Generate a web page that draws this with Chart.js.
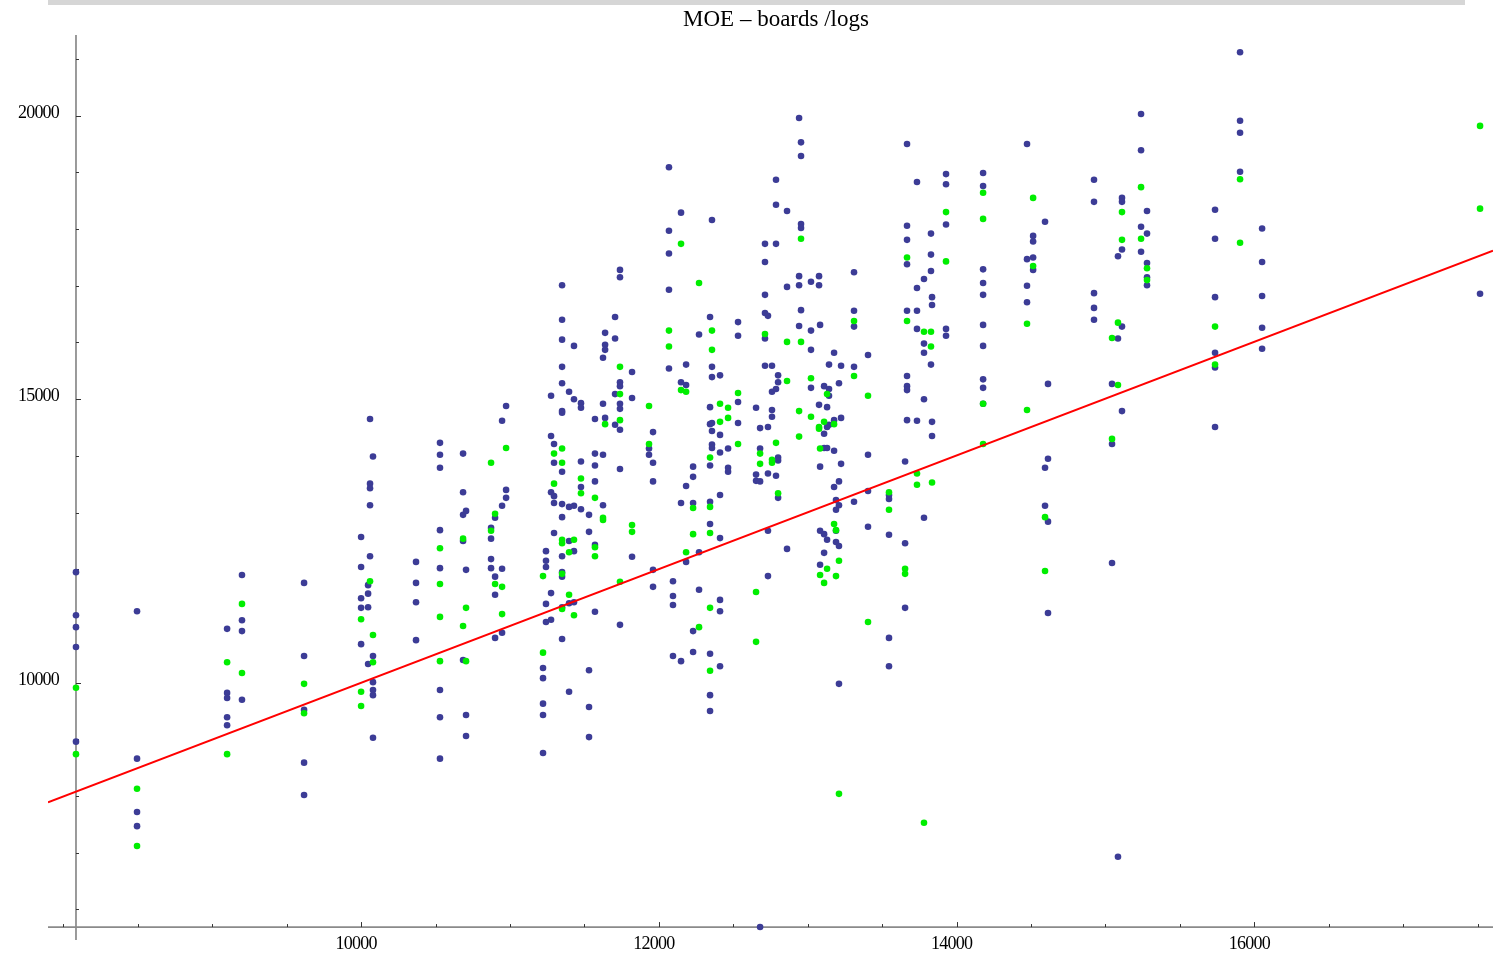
<!DOCTYPE html>
<html>
<head>
<meta charset="utf-8">
<title>MOE – boards /logs</title>
<script src="https://cdn.jsdelivr.net/npm/chart.js@4.4.1/dist/chart.umd.min.js"></script>
<style>
  html, body { margin: 0; padding: 0; background: #fff; }
  canvas { display: block; }
</style>
</head>
<body>
<canvas id="moeChart" width="1493" height="957"></canvas>
<script>
// MOE of logs (x) vs MOE of boards (y)
const boardPts = [
  [8085,11950],[8085,11190],[8085,10980],[8085,10630],[8085,8960],
  [8495,11260],[8495,8660],[8495,7720],[8495,7470],
  [9100,10950],[9100,9820],[9100,9730],[9100,9390],[9100,9250],
  [9200,11900],[9200,11100],[9200,10910],[9200,9700],
  [9617,11760],[9617,10470],[9617,9520],[9617,8590],[9617,8020],
  [10000,12570],[10000,12040],[10000,11490],[10000,11320],[10000,10680],
  [10047,11720],[10047,11570],[10047,11330],[10047,10330],
  [10060,14650],[10060,13510],[10060,13430],[10060,13130],[10060,12230],
  [10080,13990],[10080,10470],[10080,10010],[10080,9870],[10080,9780],[10080,9030],
  [10369,12130],[10369,11760],[10369,11420],[10369,10750],
  [10530,14230],[10530,14020],[10530,13790],[10530,12690],[10530,12020],[10530,9870],[10530,9390],[10530,8660],
  [10685,14040],[10685,13360],[10685,12960],[10685,12500],[10685,10400],
  [10705,13030],[10705,11990],[10705,9430],[10705,9060],
  [10873,12730],[10873,12540],[10873,12180],[10873,12020],
  [10900,12910],[10900,11870],[10900,11550],[10900,10790],
  [10947,14620],[10947,13120],[10947,12010],[10947,10880],
  [10974,14880],[10974,13400],[10974,13260],
  [11222,10260],[11222,10080],[11222,9630],[11222,9430],[11222,8760],
  [11242,12320],[11242,12150],[11242,12040],[11242,11390],[11242,11070],
  [11276,15060],[11276,14350],[11276,13360],[11276,11580],[11276,11110],
  [11296,14210],[11296,13880],[11296,13290],[11296,13170],[11296,12640],
  [11350,17010],[11350,16400],[11350,16050],[11350,15570],[11350,15280],[11350,14790],[11350,14760],
  [11350,13720],[11350,13150],[11350,12920],[11350,12230],[11350,11950],[11350,11870],[11350,11330],[11350,10770],
  [11397,15130],[11397,13100],[11397,12500],[11397,11400],[11397,9840],
  [11430,15940],[11430,15000],[11430,13120],[11430,12320],[11430,11420],
  [11477,14930],[11477,14850],[11477,13900],[11477,13450],[11477,13060],
  [11531,12960],[11531,12660],[11531,10220],[11531,9570],[11531,9040],
  [11571,14650],[11571,14040],[11571,13830],[11571,13550],[11571,12430],[11571,11250],
  [11625,15730],[11625,14920],[11625,14020],[11625,13130],
  [11639,16170],[11639,15960],[11639,15870],[11639,14670],
  [11706,16450],[11706,16070],[11706,15090],[11706,14550],
  [11739,17280],[11739,17150],[11739,15300],[11739,15230],[11739,14920],[11739,14830],[11739,14460],[11739,13770],[11739,11020],
  [11820,15480],[11820,15020],[11820,12220],
  [11934,14130],[11934,14020],
  [11961,14420],[11961,13880],[11961,13550],[11961,11990],[11961,11690],
  [12068,19090],[12068,17970],[12068,17570],[12068,16930],[12068,15540],
  [12095,11790],[12095,11530],[12095,11370],[12095,10470],
  [12149,18290],[12149,15300],[12149,13170],[12149,10380],
  [12183,15610],[12183,15250],[12183,13470],[12183,12130],
  [12230,13810],[12230,13630],[12230,13170],[12230,10910],[12230,10540],
  [12270,16140],[12270,12300],[12270,11640],
  [12344,16450],[12344,14860],[12344,14560],[12344,13830],[12344,13190],[12344,12800],[12344,10510],[12344,9780],[12344,9500],
  [12357,18160],[12357,15570],[12357,15390],[12357,14580],[12357,14440],[12357,14200],[12357,14140],
  [12411,15420],[12411,14370],[12411,14060],[12411,13310],[12411,12550],[12411,11460],[12411,11260],[12411,10290],
  [12465,14130],[12465,13790],[12465,13720],
  [12532,16360],[12532,16120],[12532,14950],[12532,14580],
  [12653,14850],[12653,13670],[12653,13560],
  [12680,14490],[12680,14130],[12680,13550],[12680,5690],
  [12713,17740],[12713,17420],[12713,16840],[12713,16520],[12713,16070],[12713,15590],
  [12733,16470],[12733,14510],[12733,13690],[12733,12680],[12733,11880],
  [12760,15590],[12760,15130],[12760,14810],[12760,14690],
  [12787,18870],[12787,18430],[12787,17740],[12787,15180],[12787,13650],
  [12801,15420],[12801,15300],[12801,13970],[12801,13920],[12801,13260],
  [12861,18320],[12861,16980],[12861,12360],
  [12942,19960],[12942,17170],[12942,17010],[12942,16290],
  [12955,19530],[12955,19290],[12955,18090],[12955,18020],[12955,16570],
  [13022,17070],[13022,16210],[13022,15870],[13022,15200],
  [13076,17170],[13076,17010],[13076,14900],
  [13083,16310],[13083,13810],[13083,12680],[13083,12080],
  [13110,15230],[13110,14390],[13110,14140],[13110,12620],[13110,12290],
  [13130,14860],[13130,14510],[13130,14140],[13130,12520],
  [13143,15610],[13143,15180],[13143,15060],[13143,14550],
  [13177,15820],[13177,14630],[13177,14090],[13177,13450],
  [13190,13220],[13190,13050],[13190,12680],[13190,12480],
  [13210,15280],[13210,13550],[13210,13130],[13210,12410],[13210,9980],
  [13224,15590],[13224,14670],[13224,13860],
  [13311,17240],[13311,16560],[13311,16280],[13311,15570],[13311,13190],
  [13405,15780],[13405,14020],[13405,13380],[13405,12750],
  [13546,13310],[13546,13240],[13546,12610],[13546,10790],[13546,10290],
  [13654,13900],[13654,12460],[13654,11320],
  [13667,19500],[13667,18060],[13667,17810],[13667,17380],[13667,16560],[13667,15410],[13667,15230],[13667,15160],[13667,14630],
  [13734,18830],[13734,16960],[13734,16560],[13734,16240],[13734,14620],
  [13781,17120],[13781,15980],[13781,15820],[13781,15000],[13781,12910],
  [13828,17920],[13828,17550],[13828,17260],[13828,15610],
  [13835,16800],[13835,16660],[13835,14600],[13835,14350],
  [13929,18970],[13929,18790],[13929,18080],[13929,16240],[13929,16120],
  [14178,18990],[14178,18760],[14178,17290],[14178,17050],[14178,16840],[14178,16310],[14178,15940],[14178,15350],[14178,15200],[14178,14920],
  [14473,19500],[14473,17470],[14473,17000],[14473,16710],
  [14514,17880],[14514,17780],[14514,17500],[14514,17280],
  [14594,18130],[14594,13790],[14594,13120],
  [14614,15270],[14614,13950],[14614,12840],[14614,11230],
  [14923,18870],[14923,18480],[14923,16870],[14923,16610],[14923,16400],
  [15044,15270],[15044,14210],[15044,12110],
  [15084,17520],[15084,16070],[15084,6930],
  [15111,18550],[15111,18480],[15111,17640],[15111,16280],[15111,14790],
  [15239,20030],[15239,19390],[15239,18040],[15239,17600],
  [15279,18320],[15279,17920],[15279,17400],[15279,17150],[15279,17010],
  [15736,18340],[15736,17830],[15736,16800],[15736,15820],[15736,15560],[15736,14510],
  [15904,21120],[15904,19910],[15904,19700],[15904,19010],
  [16052,18010],[16052,17420],[16052,16820],[16052,16260],[16052,15890],
  [17516,16860]
];

// second sample group (green points)
const greenPts = [
  [8085,9910],[8085,8740],
  [8495,8130],[8495,7120],
  [9100,10360],[9100,8740],
  [9200,11390],[9200,10170],
  [9617,9980],[9617,9460],
  [10000,11120],[10000,9840],[10000,9590],
  [10060,11790],
  [10080,10840],[10080,10360],
  [10530,12370],[10530,11740],[10530,11160],[10530,10380],
  [10685,12540],[10685,11000],
  [10705,11320],[10705,10380],
  [10873,13880],[10873,12680],
  [10900,12980],[10900,11740],
  [10947,11690],[10947,11210],
  [10974,14140],
  [11222,11880],[11222,10530],
  [11296,14040],[11296,13510],
  [11350,14130],[11350,13880],[11350,12520],[11350,12460],[11350,11920],[11350,11300],
  [11397,12300],[11397,11550],
  [11430,12520],[11430,11190],
  [11477,13600],[11477,13340],
  [11571,13260],[11571,12390],[11571,12230],
  [11625,12910],[11625,12870],
  [11639,14560],
  [11739,15570],[11739,15090],[11739,14630],[11739,11780],
  [11820,12780],[11820,12660],
  [11934,14880],[11934,14210],
  [12068,16210],[12068,15930],
  [12149,17740],[12149,15160],
  [12183,15130],[12183,12300],
  [12230,13080],[12230,12620],
  [12270,17050],[12270,10980],
  [12344,13970],[12344,13100],[12344,12640],[12344,11320],[12344,10210],
  [12357,16210],[12357,15870],
  [12411,14920],[12411,14600],
  [12465,14850],[12465,14670],
  [12532,15110],[12532,14210],
  [12653,11600],[12653,10720],
  [12680,14040],[12680,13860],
  [12713,16150],
  [12760,13930],[12760,13880],
  [12787,14230],
  [12801,13340],
  [12861,16010],[12861,15320],
  [12942,14790],[12942,14340],
  [12955,17830],[12955,16010],
  [13022,15370],[13022,14690],
  [13076,14510],[13076,14480],
  [13083,14130],[13083,11900],
  [13110,14600],[13110,11760],
  [13130,15090],[13130,12010],
  [13177,14560],[13177,12800],
  [13190,12690],[13190,11880],
  [13210,12150],[13210,8040],
  [13311,16380],[13311,15410],
  [13405,15060],[13405,11070],
  [13546,13360],[13546,13050],
  [13654,12010],[13654,11920],
  [13667,17500],[13667,16380],
  [13734,13690],[13734,13490],
  [13781,16190],[13781,7530],
  [13828,16190],[13828,15930],
  [13835,13530],
  [13929,18300],[13929,17430],
  [14178,18640],[14178,18180],[14178,14920],[14178,14210],
  [14473,16330],[14473,14810],
  [14514,18550],[14514,17350],
  [14594,12920],[14594,11970],
  [15044,16080],[15044,14300],
  [15084,16350],[15084,15250],
  [15111,18300],[15111,17810],
  [15239,18740],[15239,17830],
  [15279,17310],[15279,17100],
  [15736,16280],[15736,15610],
  [15904,18880],[15904,17760],
  [17516,19820],[17516,18360]
];

// red reference line, end points
const fitLine = [[7897, 7891], [17603, 17619]];

const xRange = [7897, 17603];
const yRange = [5462, 21423];
const axisOrigin = [8085, 5690];
const xMajorTicks = [10000, 12000, 14000, 16000];
const yMajorTicks = [10000, 15000, 20000];
const xMinorTicks = [8000, 8500, 9000, 9500, 10500, 11000, 11500, 12500, 13000, 13500, 14500, 15000, 15500, 16500, 17000, 17500];
const yMinorTicks = [6000, 7000, 8000, 9000, 11000, 12000, 13000, 14000, 16000, 17000, 18000, 19000, 21000];
const chartTitle = 'MOE \u2013 boards /logs';

const serif = '"Liberation Serif", "Times New Roman", serif';

const toXY = pts => pts.map(p => ({x: p[0], y: p[1]}));

// Mathematica-like axes crossing at the origin, drawn by hand
const mmaAxes = {
  id: 'mmaAxes',
  beforeDraw(chart) {
    const ctx = chart.ctx;
    ctx.save();
    ctx.fillStyle = '#d6d6d6';
    ctx.fillRect(48, 0, 1417, 5);
    ctx.restore();
  },
  beforeDatasetsDraw(chart) {
    const {ctx, chartArea: a, scales: {x, y}} = chart;
    const ax = x.getPixelForValue(axisOrigin[0]);
    const ay = y.getPixelForValue(axisOrigin[1]);
    ctx.save();
    ctx.strokeStyle = '#8a8a8a';
    ctx.lineWidth = 1.7;
    ctx.beginPath();
    ctx.moveTo(ax, a.top);
    ctx.lineTo(ax, a.bottom);
    ctx.moveTo(a.left, ay);
    ctx.lineTo(a.right, ay);
    ctx.stroke();

    ctx.strokeStyle = '#333';
    ctx.lineWidth = 1;
    ctx.beginPath();
    yMajorTicks.forEach(v => {
      const p = Math.round(y.getPixelForValue(v)) + 0.5;
      ctx.moveTo(ax, p); ctx.lineTo(ax + 5, p);
    });
    yMinorTicks.forEach(v => {
      const p = Math.round(y.getPixelForValue(v)) + 0.5;
      ctx.moveTo(ax, p); ctx.lineTo(ax + 3, p);
    });
    xMajorTicks.forEach(v => {
      const p = Math.round(x.getPixelForValue(v)) + 0.5;
      ctx.moveTo(p, ay); ctx.lineTo(p, ay - 5);
    });
    xMinorTicks.forEach(v => {
      const p = Math.round(x.getPixelForValue(v)) + 0.5;
      ctx.moveTo(p, ay); ctx.lineTo(p, ay - 3);
    });
    ctx.stroke();
    ctx.restore();
  },
  afterDraw(chart) {
    const {ctx, scales: {x, y}} = chart;
    const ax = x.getPixelForValue(axisOrigin[0]);
    const ay = y.getPixelForValue(axisOrigin[1]);
    ctx.save();
    ctx.fillStyle = '#000';
    ctx.font = '18px ' + serif;
    ctx.letterSpacing = '-0.8px';
    ctx.textBaseline = 'middle';
    ctx.textAlign = 'right';
    yMajorTicks.forEach(v => {
      ctx.fillText(String(v), ax - 17, y.getPixelForValue(v) - 2.5);
    });
    ctx.textAlign = 'center';
    xMajorTicks.forEach(v => {
      ctx.fillText(String(v), x.getPixelForValue(v) - 5, ay + 17.5);
    });
    ctx.letterSpacing = '0px';
    ctx.font = '23px ' + serif;
    ctx.fillText(chartTitle, 776, 20);
    ctx.restore();
  }
};

new Chart(document.getElementById('moeChart'), {
  type: 'scatter',
  data: {
    datasets: [
      {
        type: 'line',
        label: 'fit',
        data: toXY(fitLine),
        borderColor: '#ff0000',
        borderWidth: 2,
        pointRadius: 0,
        fill: false,
        order: 0
      },
      {
        label: 'green',
        data: toXY(greenPts),
        backgroundColor: 'rgb(0,238,0)',
        borderWidth: 0,
        pointRadius: 3.3,
        order: 1
      },
      {
        label: 'boards',
        data: toXY(boardPts),
        backgroundColor: 'rgb(60,60,150)',
        borderWidth: 0,
        pointRadius: 3.3,
        order: 2
      }
    ]
  },
  options: {
    responsive: false,
    animation: false,
    devicePixelRatio: 1,
    layout: { autoPadding: false, padding: { left: 48, right: 0, top: 35, bottom: 17 } },
    scales: {
      x: { type: 'linear', min: xRange[0], max: xRange[1], display: false },
      y: { type: 'linear', min: yRange[0], max: yRange[1], display: false }
    },
    plugins: {
      legend: { display: false },
      tooltip: { enabled: false },
      title: { display: false }
    }
  },
  plugins: [mmaAxes]
});
</script>
</body>
</html>
